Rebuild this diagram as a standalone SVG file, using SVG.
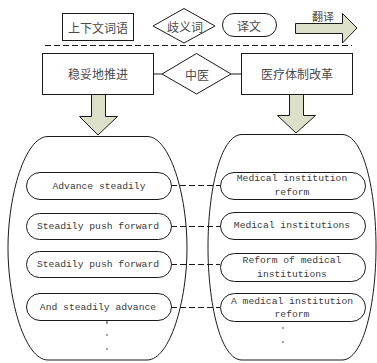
<svg xmlns="http://www.w3.org/2000/svg" width="377" height="363" viewBox="0 0 377 363">
  <style>
    .shape { fill: #ffffff; stroke: #1a1a1a; stroke-width: 1; }
    .arrow { fill: #dde0c8; stroke: #1a1a1a; stroke-width: 1; }
    .zh { font-family: "Noto Sans CJK SC", sans-serif; font-size: 12px; fill: #4a4a4a; text-anchor: middle; dominant-baseline: central; }
    .en { font-family: "Liberation Mono", monospace; font-size: 9.7px; fill: #3a3a3a; text-anchor: middle; dominant-baseline: central; }
    .link { fill: none; stroke: #1a1a1a; stroke-width: 1; }
    .dash { fill: none; stroke: #1a1a1a; stroke-width: 1; stroke-dasharray: 6 3; }
    .dot { fill: #333333; }
  </style>

  <!-- legend row -->
  <g id="legend-term">
    <rect class="shape" x="62.5" y="13.5" width="71" height="27"/>
    <text class="zh" x="98" y="27">上下文词语</text>
  </g>
  <g id="legend-ambiguous">
    <polygon class="shape" points="184,8.5 215,26 184,43 153,26"/>
    <text class="zh" x="185" y="26">歧义词</text>
  </g>
  <g id="legend-translation">
    <rect class="shape" x="222.5" y="13.5" width="54" height="23" rx="11.5"/>
    <text class="zh" x="249" y="25">译文</text>
  </g>
  <g id="legend-translate-arrow">
    <path class="arrow" d="M295.5,23.5 H342.5 V13.5 L357,28 L342.5,43 V33.5 H295.5 Z"/>
    <text class="zh" x="323" y="16" style="font-size:11px">翻译</text>
  </g>

  <!-- separator -->
  <line class="dash" x1="45" y1="45.5" x2="352" y2="45.5"/>

  <!-- source term, ambiguous word, target term -->
  <g id="term-source">
    <rect class="shape" x="42.5" y="53.5" width="111" height="41"/>
    <text class="zh" x="98" y="73.5">稳妥地推进</text>
  </g>
  <g id="term-ambiguous">
    <polygon class="shape" points="196.5,53.5 231,74 196.5,94 162,74"/>
    <text class="zh" x="197" y="74">中医</text>
  </g>
  <g id="term-target">
    <rect class="shape" x="241.5" y="53.5" width="111" height="41"/>
    <text class="zh" x="297" y="73.5">医疗体制改革</text>
  </g>

  <!-- downward block arrows -->
  <g id="arrow-left">
    <path class="arrow" d="M91.5,94.5 H105.5 V116.5 H117.5 L98,135 L79.5,116.5 H91.5 Z"/>
  </g>
  <g id="arrow-right">
    <path class="arrow" d="M289.5,94.5 H303.5 V115.5 H315.5 L296,133 L277.5,115.5 H289.5 Z"/>
  </g>

  <!-- candidate containers -->
  <g id="container-left">
    <path class="shape" d="M48,136.5 H147 C170,136.5 187,195 187,248 C187,301 170,360 147,360 H48 C25,360 8,301 8,248 C8,195 25,136.5 48,136.5 Z"/>
  </g>
  <g id="container-right">
    <path class="shape" d="M242,134.5 H342 C364,134.5 376,192 376,247 C376,302 364,360 342,360 H242 C220,360 208,302 208,247 C208,192 220,134.5 242,134.5 Z"/>
  </g>

  <!-- connectors -->
  <g id="connectors">
    <line class="link" x1="153.5" y1="74" x2="162" y2="74"/>
    <line class="link" x1="231" y1="74" x2="241.5" y2="74"/>
    <line class="dash" x1="171" y1="185.5" x2="220" y2="185.5"/>
    <line class="dash" x1="171" y1="226.5" x2="220" y2="226.5"/>
    <line class="dash" x1="171" y1="264.5" x2="220" y2="264.5"/>
    <line class="dash" x1="171" y1="307.5" x2="220" y2="307.5"/>
  </g>

  <!-- source candidates -->
  <g id="src-1">
    <rect class="shape" x="26.5" y="172.5" width="145" height="27" rx="13.5"/>
    <text class="en" x="99" y="186">Advance steadily</text>
  </g>
  <g id="src-2">
    <rect class="shape" x="26.5" y="213.5" width="145" height="26" rx="13"/>
    <text class="en" x="98" y="226.5">Steadily push forward</text>
  </g>
  <g id="src-3">
    <rect class="shape" x="26.5" y="251.5" width="145" height="26" rx="13"/>
    <text class="en" x="98" y="264.5">Steadily push forward</text>
  </g>
  <g id="src-4">
    <rect class="shape" x="26.5" y="293.5" width="145" height="27" rx="13.5"/>
    <text class="en" x="98" y="307">And steadily advance</text>
  </g>
  <g id="src-more">
    <rect class="dot" x="106.5" y="321" width="1" height="3"/>
    <circle class="dot" cx="107" cy="335" r="0.8"/>
    <circle class="dot" cx="107" cy="349" r="0.8"/>
  </g>

  <!-- target candidates -->
  <g id="tgt-1">
    <rect class="shape" x="220.5" y="172.5" width="145" height="27" rx="13.5"/>
    <text class="en" x="292" y="178">Medical institution</text>
    <text class="en" x="292" y="192">reform</text>
  </g>
  <g id="tgt-2">
    <rect class="shape" x="220.5" y="212.5" width="145" height="27" rx="13.5"/>
    <text class="en" x="292" y="225.5">Medical institutions</text>
  </g>
  <g id="tgt-3">
    <rect class="shape" x="220.5" y="253.5" width="145" height="28" rx="14"/>
    <text class="en" x="292" y="260.5">Reform of medical</text>
    <text class="en" x="292" y="274">institutions</text>
  </g>
  <g id="tgt-4">
    <rect class="shape" x="220.5" y="293.5" width="145" height="28" rx="14"/>
    <text class="en" x="292" y="301">A medical institution</text>
    <text class="en" x="292" y="314.5">reform</text>
  </g>
  <g id="tgt-more">
    <circle class="dot" cx="283" cy="328" r="0.8"/>
    <circle class="dot" cx="283" cy="342" r="0.8"/>
  </g>
</svg>
